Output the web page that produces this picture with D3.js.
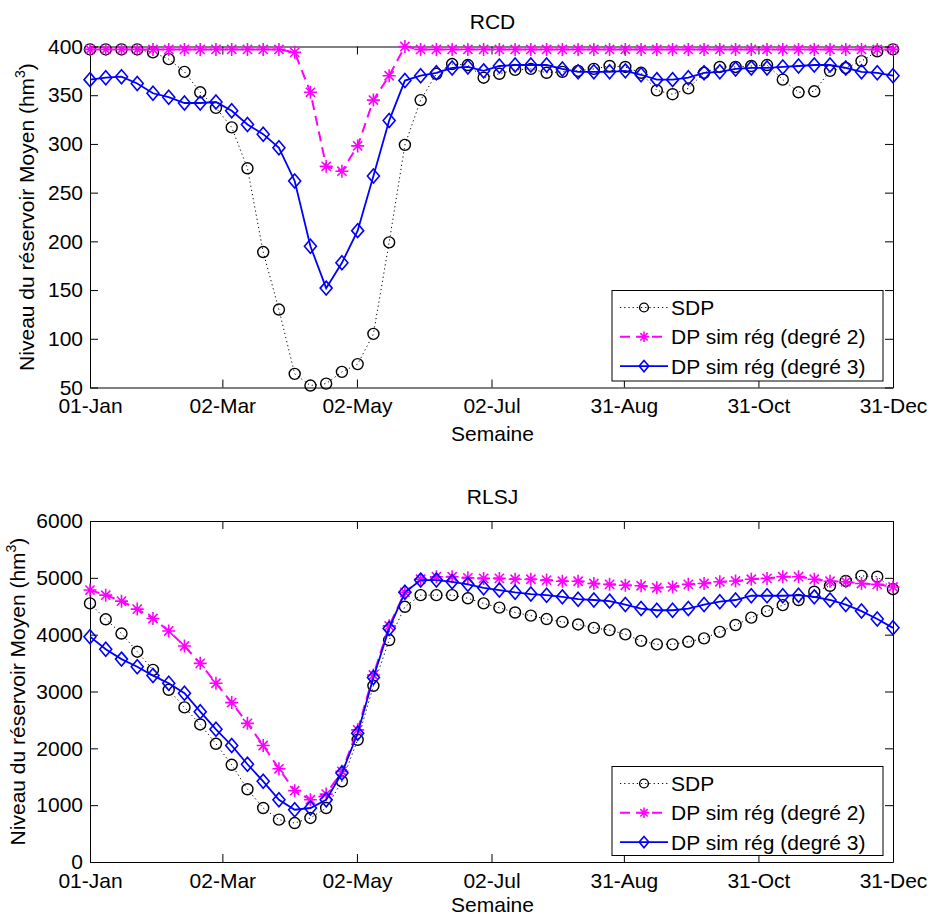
<!DOCTYPE html>
<html>
<head>
<meta charset="utf-8">
<script src="https://cdn.jsdelivr.net/npm/d3@7"></script>
<style>
  body { margin: 0; background: #fff; }
  text { font-family: "Liberation Sans", Arial, sans-serif; fill: #000; }
</style>
</head>
<body>
<div id="chart"></div>
<script>
// weekly points over one year
const weeks = d3.range(1, 53);
const dayTicks = [0, 60, 121, 182, 242, 303, 364];
const dayTickLabels = ["01-Jan", "02-Mar", "02-May", "02-Jul", "31-Aug", "31-Oct", "31-Dec"];

const seriesNames = ["SDP", "DP sim rég (degré 2)", "DP sim rég (degré 3)"];

// RCD
const rcdSDP = [397, 397, 397, 397, 394, 387, 374, 353, 337, 317,
    275, 189, 130, 64, 52, 54, 66, 74, 105, 199,
    299, 345, 372, 382, 381, 368, 372, 376, 377, 373,
    374, 375, 377, 380, 379, 373, 355, 351, 357, 373,
    379, 379, 380, 381, 366, 353, 354, 375, 378, 385,
    395, 397];
const rcdDeg2 = [397, 397, 397, 397, 397, 397, 397, 397, 397, 397,
    397, 397, 397, 394, 353, 277, 272, 298, 345, 370,
    400, 397, 397, 397, 397, 397, 397, 397, 397, 397,
    397, 397, 397, 397, 397, 397, 397, 397, 397, 397,
    397, 397, 397, 397, 397, 397, 397, 397, 397, 397,
    397, 397];
const rcdDeg3 = [366, 368, 369, 362, 352, 348, 342, 342, 343, 334,
    320, 310, 296, 262, 195, 152, 178, 211, 267, 324,
    365, 370, 373, 378, 379, 375, 380, 381, 381, 381,
    377, 374, 374, 374, 375, 371, 366, 366, 368, 373,
    374, 377, 378, 378, 379, 380, 381, 381, 378, 374,
    373, 370];
const rcdTicks = [50, 100, 150, 200, 250, 300, 350, 400];

// RLSJ
const rlsjSDP = [4550, 4270, 4020, 3700, 3380, 3030, 2720, 2420, 2080, 1710,
    1280, 950, 745, 685, 775, 950, 1420, 2150, 3100, 3905,
    4490, 4695, 4695, 4695, 4640, 4550, 4475, 4390, 4335, 4275,
    4225, 4180, 4120, 4080, 4005, 3890, 3830, 3830, 3875, 3935,
    4050, 4170, 4300, 4415, 4520, 4610, 4755, 4860, 4945, 5035,
    5020, 4800];
const rlsjDeg2 = [4785, 4695, 4590, 4450, 4285, 4065, 3800, 3495, 3145, 2805,
    2440, 2050, 1640, 1255, 1095, 1195, 1595, 2325, 3290, 4155,
    4745, 4975, 5020, 5020, 5000, 4990, 4990, 4975, 4975, 4960,
    4940, 4940, 4900, 4885, 4870, 4860, 4825, 4840, 4885, 4900,
    4930, 4945, 4975, 4990, 5020, 5020, 4975, 4940, 4930, 4900,
    4885, 4840];
const rlsjDeg3 = [3965, 3745, 3570, 3435, 3280, 3145, 2970, 2645, 2335, 2050,
    1720, 1420, 1095, 920, 950, 1095, 1565, 2265, 3245, 4110,
    4745, 4960, 4960, 4930, 4885, 4825, 4785, 4745, 4715, 4695,
    4665, 4625, 4610, 4590, 4530, 4460, 4430, 4430, 4460, 4530,
    4580, 4610, 4685, 4685, 4685, 4695, 4665, 4610, 4530, 4415,
    4275, 4120];
const rlsjTicks = [0, 1000, 2000, 3000, 4000, 5000, 6000];

const width = 933, height = 918;
const svg = d3.select("#chart").append("svg")
    .attr("width", width)
    .attr("height", height);

const styles = [
    { color: "#000000", width: 1, dash: "1.2,3", marker: "circle" },
    { color: "#ff00ff", width: 2, dash: "10,6", marker: "star" },
    { color: "#0000ff", width: 1.8, dash: null, marker: "diamond" }
];

function drawMarker(sel, type, k) {
    k = k || 1;
    if (type === "circle") {
        sel.append("circle").attr("r", 5.5 * k)
            .attr("fill", "none").attr("stroke", "#000").attr("stroke-width", 1.4);
    } else if (type === "star") {
        const a = 6.5 * k, b = 4.6 * k;
        sel.append("path")
            .attr("d", `M${-a},0H${a}M0,${-a}V${a}M${-b},${-b}L${b},${b}M${-b},${b}L${b},${-b}`)
            .attr("stroke", "#ff00ff").attr("stroke-width", 1.6).attr("fill", "none");
    } else {
        const w = 6 * k, h = 7 * k;
        sel.append("path")
            .attr("d", `M0,${-h}L${w},0L0,${h}L${-w},0Z`)
            .attr("fill", "none").attr("stroke", "#0000ff").attr("stroke-width", 1.6);
    }
}

function drawPanel(cfg) {
    const plotW = 803, plotH = 341;
    const g = svg.append("g").attr("transform", `translate(90,${cfg.top})`);

    const xWeek = d3.scaleLinear().domain([1, 52]).range([0, plotW]);
    const xDay = d3.scaleLinear().domain([0, 364]).range([0, plotW]);
    const y = d3.scaleLinear().domain(cfg.yDomain).range([plotH, 0]);

    // axes, ticks pointing inward
    g.append("g").attr("transform", `translate(0,${plotH})`)
        .call(d3.axisBottom(xDay).tickValues(dayTicks)
            .tickFormat((d, i) => dayTickLabels[i]).tickSize(-8).tickSizeOuter(0).tickPadding(11));
    g.append("g")
        .call(d3.axisTop(xDay).tickValues(dayTicks).tickFormat("").tickSize(-8).tickSizeOuter(0));
    g.append("g")
        .call(d3.axisLeft(y).tickValues(cfg.yTicks).tickFormat(d3.format("d"))
            .tickSize(-8).tickSizeOuter(0).tickPadding(7));
    g.append("g").attr("transform", `translate(${plotW},0)`)
        .call(d3.axisRight(y).tickValues(cfg.yTicks).tickFormat("").tickSize(-8).tickSizeOuter(0));

    g.selectAll(".domain").attr("stroke", "#000").attr("stroke-width", 1);
    g.selectAll(".tick line").attr("stroke", "#000").attr("stroke-width", 1);
    g.selectAll(".tick text").attr("font-size", 21)
        .attr("font-family", "'Liberation Sans', Arial, sans-serif");

    // series
    cfg.series.forEach((vals, si) => {
        const st = styles[si];
        const line = d3.line().x((d, i) => xWeek(weeks[i])).y(d => y(d));
        g.append("path").datum(vals)
            .attr("d", line)
            .attr("fill", "none")
            .attr("stroke", st.color)
            .attr("stroke-width", st.width)
            .attr("stroke-dasharray", st.dash);
        g.append("g").selectAll("g").data(vals).join("g")
            .attr("transform", (d, i) => `translate(${xWeek(weeks[i])},${y(d)})`)
            .each(function () { drawMarker(d3.select(this), st.marker); });
    });

    // title
    g.append("text").attr("x", plotW / 2 + 1).attr("y", -17.5)
        .attr("text-anchor", "middle").attr("font-size", 21).text(cfg.title);

    // x label
    g.append("text").attr("x", plotW / 2 + 1).attr("y", cfg.xLabelY)
        .attr("text-anchor", "middle").attr("font-size", 21).text("Semaine");

    // y label
    const yl = g.append("text")
        .attr("transform", `translate(${cfg.yLabelX},${plotH / 2}) rotate(-90)`)
        .attr("text-anchor", "middle").attr("font-size", 21);
    yl.append("tspan").text("Niveau du réservoir Moyen (hm");
    yl.append("tspan").attr("font-size", 14).attr("dy", -9).text("3");
    yl.append("tspan").attr("dy", 9).text(")");

    // legend
    const lw = 271, lh = cfg.legendH;
    const lg = g.append("g").attr("transform", `translate(${plotW - 10 - lw},${plotH - 6.5 - lh})`);
    lg.append("rect").attr("width", lw).attr("height", lh)
        .attr("fill", "#fff").attr("stroke", "#000").attr("stroke-width", 1);
    seriesNames.forEach((name, si) => {
        const st = styles[si];
        const row = lg.append("g").attr("transform", `translate(0,${17 + si * 29.3})`);
        row.append("line").attr("x1", 8).attr("x2", 56)
            .attr("stroke", st.color).attr("stroke-width", st.width)
            .attr("stroke-dasharray", st.dash);
        const m = row.append("g").attr("transform", "translate(32,0)");
        drawMarker(m, st.marker, 0.8);
        row.append("text").attr("x", 59).attr("dy", "0.36em")
            .attr("font-size", 21).text(name);
    });
}

drawPanel({
    top: 46.5,
    title: "RCD",
    yDomain: [50, 400],
    yTicks: rcdTicks,
    series: [rcdSDP, rcdDeg2, rcdDeg3],
    xLabelY: 394,
    yLabelX: -56,
    legendH: 90.5
});

drawPanel({
    top: 521,
    title: "RLSJ",
    yDomain: [0, 6000],
    yTicks: rlsjTicks,
    series: [rlsjSDP, rlsjDeg2, rlsjDeg3],
    xLabelY: 391,
    yLabelX: -65,
    legendH: 89
});
</script>
</body>
</html>
